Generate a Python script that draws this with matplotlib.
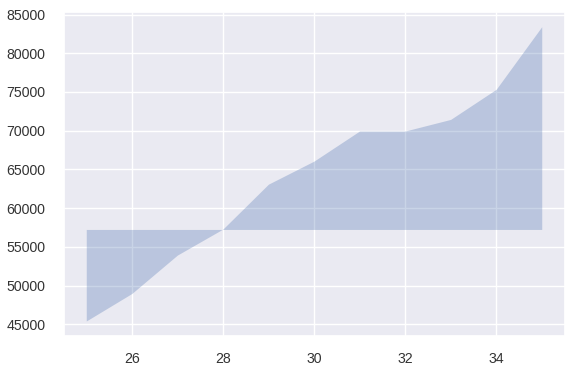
import matplotlib
matplotlib.use("Agg")
import matplotlib.pyplot as plt
import seaborn as sns

sns.set_theme(style="darkgrid")
plt.rcParams['font.family'] = ['Liberation Sans', 'DejaVu Sans']

x = [25, 26, 27, 28, 29, 30, 31, 32, 33, 34, 35]
y = [45430, 48980, 53940, 57300, 63100, 66075, 69960, 69960, 71460, 75350, 83430]
baseline = 57250

fig = plt.figure(figsize=(5.71, 3.72), dpi=100)
ax = fig.add_axes([63.5 / 571, 1 - 335.7 / 372, (564.5 - 63.5) / 571, (335.7 - 12) / 372])
ax.fill_between(x, y, baseline, color='#4c72b0', alpha=0.3, linewidth=0)
ax.set_xticks([26, 28, 30, 32, 34])
ax.set_yticks([45000, 50000, 55000, 60000, 65000, 70000, 75000, 80000, 85000])
ax.tick_params(axis='both', labelsize=10.2, colors='#333333', length=0)
ax.tick_params(axis='x', pad=12.0)
ax.tick_params(axis='y', pad=13.0)
fig.savefig("out.png", dpi=100)
